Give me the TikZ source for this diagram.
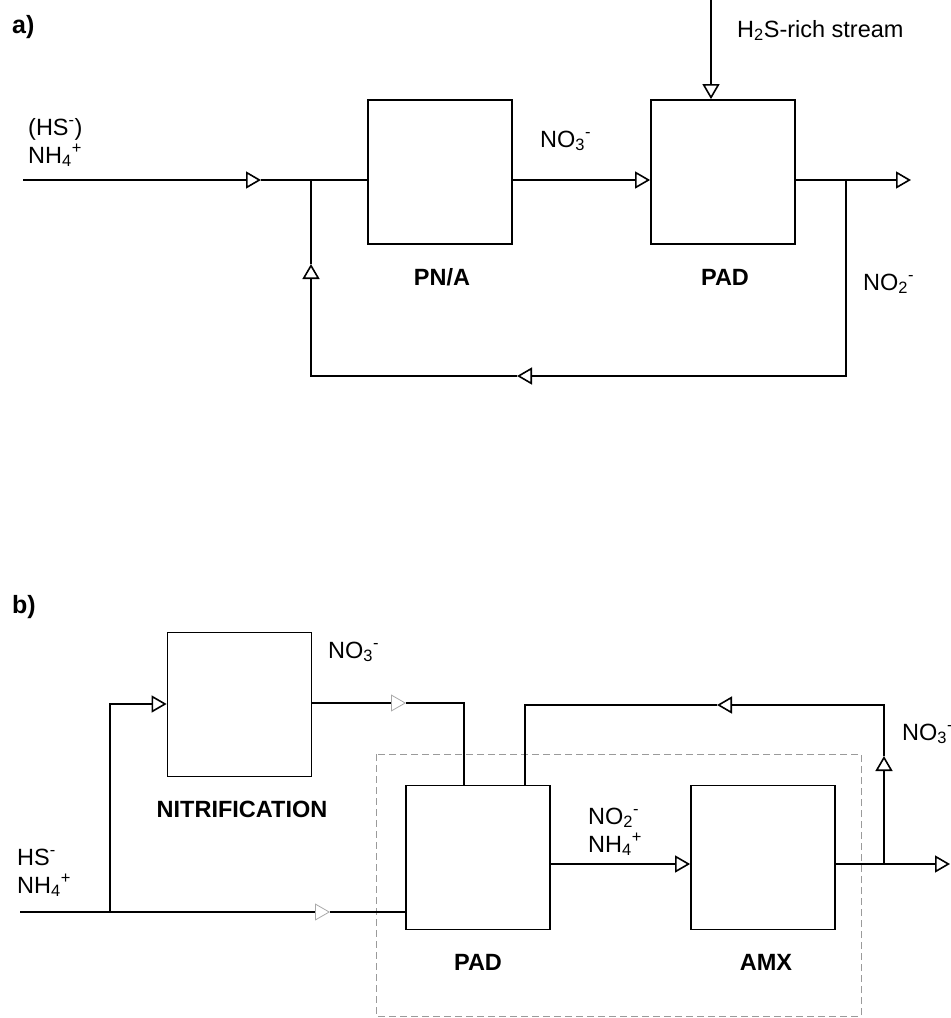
\documentclass[tikz,border=0pt]{standalone}
\usepackage{fontspec}
\setmainfont{Liberation Sans}
\usetikzlibrary{arrows.meta}
\definecolor{lgray}{HTML}{A8A8A8}
\definecolor{dgray}{HTML}{9A9A9A}
\begin{document}
\begin{tikzpicture}[x=1pt,y=-1pt,
  proc/.style={draw, line width=1.8pt, minimum width=144pt, minimum height=144pt, inner sep=0pt},
  flow/.style={line width=1.8pt},
  tip/.style={-{Triangle[open, length=15pt, width=17pt, line width=1.6pt]}},
  gtip/.style={-{Triangle[open, length=15pt, width=17pt, line width=0.8pt, color=lgray]}},
  txt/.style={font=\fontsize{23.5}{28}\selectfont, inner sep=0pt},
  btxt/.style={font=\fontsize{23.5}{28}\selectfont\bfseries, inner sep=0pt},
  ptxt/.style={font=\fontsize{25}{28}\selectfont\bfseries, inner sep=0pt},
  grp/.style={draw=dgray, line width=0.9pt, dash pattern=on 7pt off 4pt}
]
\useasboundingbox (0,0) rectangle (951,1018);

% ---------------- a) ----------------
\node[ptxt, anchor=base west] (la) at (12,33) {a)};
\node[proc] (pna) at (440,172) {};
\node[proc] (pada) at (723,172) {};
\node[btxt, anchor=base] (tpna) at (442,285) {PN/A};
\node[btxt, anchor=base] (tpada) at (725,285) {PAD};

\coordinate (ina) at (23,180);
\coordinate (ta1) at (261,180);
\coordinate (ja) at (311,180);
\coordinate (h2s) at (711,0);
\coordinate (outa) at (911,180);
\coordinate (ja2) at (846,180);
\coordinate (ra1) at (846,376);
\coordinate (ra2) at (517,376);
\coordinate (ra3) at (311,376);
\coordinate (ra4) at (311,264);

\draw[flow, tip] (ina) -- (ta1);
\draw[flow] (ta1) -- (ina -| pna.west);
\draw[flow, tip] (ina -| pna.east) -- (ina -| pada.west);
\draw[flow, tip] (h2s) -- (h2s |- pada.north);
\draw[flow, tip] (ina -| pada.east) -- (outa);
\draw[flow, tip] (ja2) -- (ra1) -- (ra2);
\draw[flow, tip] (ra2) -- (ra3) -- (ra4);
\draw[flow] (ra4) -- (ja);

\node[txt, anchor=base west, align=left] (lina) at (28,163) {(HS\textsuperscript{-})\\NH\textsubscript{4}\textsuperscript{+}};
\node[txt, anchor=base west] (lno3a) at (540,147) {NO\textsubscript{3}\textsuperscript{-}};
\node[txt, anchor=base west] (lh2s) at (737,37) {H\textsubscript{2}S-rich stream};
\node[txt, anchor=base west] (lno2a) at (863,290) {NO\textsubscript{2}\textsuperscript{-}};

% ---------------- b) ----------------
\node[ptxt, anchor=base west] (lb) at (12,613) {b)};
\draw[grp] (376,754) rectangle (861,1016);
\node[proc] (nitr) at (239.5,704.5) {};
\node[proc] (padb) at (478,857.5) {};
\node[proc] (amx) at (763,857.5) {};
\node[btxt, anchor=base] (tnitr) at (242,817) {NITRIFICATION};
\node[btxt, anchor=base] (tpadb) at (478,970) {PAD};
\node[btxt, anchor=base] (tamx) at (766,970) {AMX};

\coordinate (inb) at (20,912);
\coordinate (jb) at (110,912);
\coordinate (tb1) at (330,912);
\coordinate (nb1) at (110,704);
\coordinate (no1) at (312,703);
\coordinate (tb2) at (406,703);
\coordinate (nb2) at (464,703);
\coordinate (rb1) at (525,705);
\coordinate (rb2) at (717,705);
\coordinate (rb3) at (884,705);
\coordinate (rb4) at (884,756);
\coordinate (jb2) at (884,864);
\coordinate (pb) at (550,864);
\coordinate (outb) at (950,864);

\draw[flow] (inb) -- (jb);
\draw[flow, tip] (jb) -- (nb1) -- (nb1 -| nitr.west);
\draw[flow, gtip] (jb) -- (tb1);
\draw[flow] (tb1) -- (tb1 -| padb.west);
\draw[flow, gtip] (nitr.east |- no1) -- (tb2);
\draw[flow] (tb2) -- (nb2) -- (nb2 |- padb.north);
\draw[flow, tip] (padb.east |- pb) -- (pb -| amx.west);
\draw[flow, tip] (amx.east |- pb) -- (outb);
\draw[flow, tip] (jb2) -- (rb4);
\draw[flow, tip] (rb4) -- (rb3) -- (rb2);
\draw[flow] (rb2) -- (rb1) -- (rb1 |- padb.north);

\node[txt, anchor=base west] (lno3n) at (328,658) {NO\textsubscript{3}\textsuperscript{-}};
\node[txt, anchor=base west, align=left] (linb) at (17,893) {HS\textsuperscript{-}\\NH\textsubscript{4}\textsuperscript{+}};
\node[txt, anchor=base west, align=left] (lmid) at (588,852) {NO\textsubscript{2}\textsuperscript{-}\\NH\textsubscript{4}\textsuperscript{+}};
\node[txt, anchor=base west] (lno3r) at (902,740) {NO\textsubscript{3}\textsuperscript{-}};
\end{tikzpicture}
\end{document}
